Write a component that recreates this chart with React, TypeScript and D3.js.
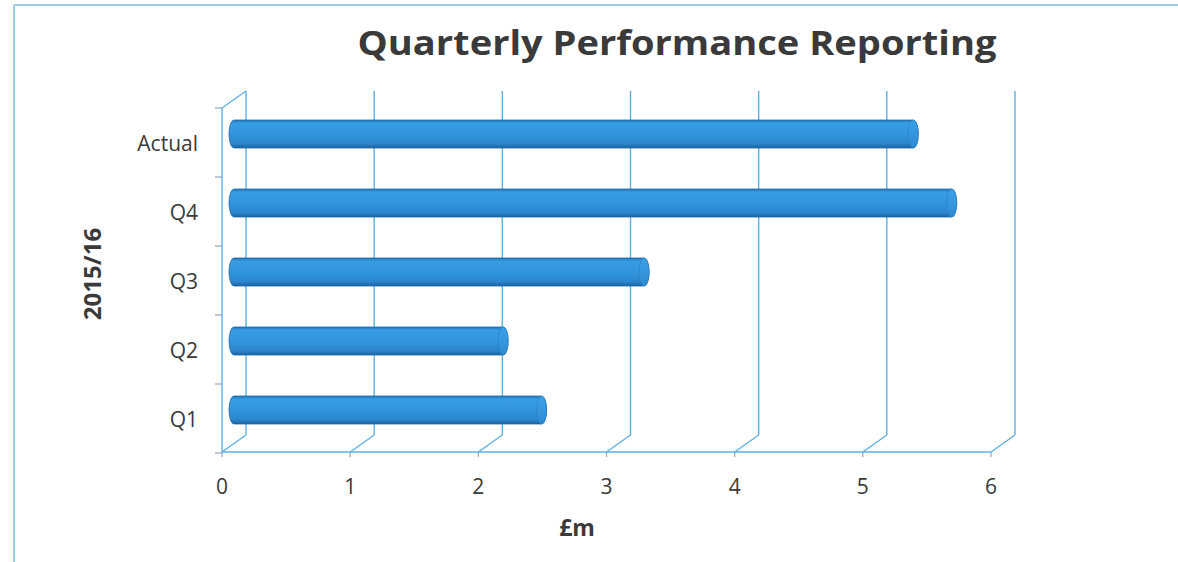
import React from "react";
import * as d3 from "d3";

const categories = ["Q1", "Q2", "Q3", "Q4", "Actual"];
const values = [2.4, 2.1, 3.2, 5.6, 5.3];
const xTicks = [0, 1, 2, 3, 4, 5, 6];
const title = "Quarterly Performance Reporting";
const xTitle = "£m";
const yTitle = "2015/16";

const W = 1178;
const H = 562;
const DX = 24;
const DY = -17;
const FONT = "'Open Sans', 'Noto Sans', sans-serif";

export default function App() {
  const x = d3.scaleLinear().domain([0, 6]).range([222, 991]);
  const y = d3
    .scaleBand<string>()
    .domain([...categories].reverse())
    .range([108, 453])
    .paddingInner(0)
    .paddingOuter(0);
  const floorY = 452;
  const topY = 108;
  const barH = 28;
  const capRx = 5;
  const grid = "#5fb0e2";
  const tickCol = "#8aa9c8";
  const textCol = "#3a3a3a";

  return (
    <svg
      width={W}
      height={H}
      style={{ position: "absolute", left: 0, top: 0, background: "#fff" }}
    >
      <defs>
        <linearGradient id="cyl" x1="0" y1="0" x2="0" y2="1">
          <stop offset="0" stopColor="#2676b8" />
          <stop offset="0.12" stopColor="#379de4" />
          <stop offset="0.5" stopColor="#3095de" />
          <stop offset="0.85" stopColor="#2b85cc" />
          <stop offset="1" stopColor="#1a60a0" />
        </linearGradient>
        <linearGradient id="cap" x1="0" y1="0" x2="0" y2="1">
          <stop offset="0" stopColor="#3aa2ea" />
          <stop offset="1" stopColor="#2e8ad2" />
        </linearGradient>
      </defs>

      {/* outer frame */}
      <line x1={14} y1={5} x2={W} y2={5} stroke="#9ccbe9" strokeWidth={2} />
      <line x1={14} y1={5} x2={14} y2={H} stroke="#9ccbe9" strokeWidth={2} />

      {/* title */}
      <text
        x={677}
        y={55}
        textAnchor="middle"
        fontFamily={FONT}
        fontWeight="bold"
        fontSize={34}
        fill={textCol}
        textLength={639}
        lengthAdjust="spacingAndGlyphs"
      >
        {title}
      </text>

      {/* back wall gridlines + floor diagonals */}
      {xTicks.map((t) => (
        <g key={"g" + t}>
          <line
            x1={x(t) + DX}
            y1={topY + DY}
            x2={x(t) + DX}
            y2={floorY + DY}
            stroke={grid}
            strokeWidth={1.4}
          />
          <line
            x1={x(t)}
            y1={floorY}
            x2={x(t) + DX}
            y2={floorY + DY}
            stroke={grid}
            strokeWidth={1.4}
          />
          <line
            x1={x(t)}
            y1={floorY}
            x2={x(t)}
            y2={floorY + 5}
            stroke={tickCol}
            strokeWidth={1.2}
          />
          <text
            x={x(t)}
            y={494}
            textAnchor="middle"
            fontFamily={FONT}
            fontSize={21}
            fill={textCol}
          >
            {t}
          </text>
        </g>
      ))}

      {/* front floor edge */}
      <line x1={x(0)} y1={floorY} x2={x(6)} y2={floorY} stroke={grid} strokeWidth={1.4} />
      {/* left wall front edge */}
      <line x1={x(0)} y1={topY} x2={x(0)} y2={floorY} stroke={grid} strokeWidth={1.4} />
      <line
        x1={x(0)}
        y1={topY}
        x2={x(0) + DX}
        y2={topY + DY}
        stroke={grid}
        strokeWidth={1.4}
      />

      {/* category ticks */}
      {[...categories.map((c) => y(c) as number), 453].map((py, i) => (
        <line
          key={"ct" + i}
          x1={x(0) - 7}
          y1={py}
          x2={x(0)}
          y2={py}
          stroke={tickCol}
          strokeWidth={1.2}
        />
      ))}

      {/* category labels */}
      {categories.map((c) => (
        <text
          key={"cl" + c}
          x={198}
          y={(y(c) as number) + y.bandwidth() / 2 + 8}
          textAnchor="end"
          fontFamily={FONT}
          fontSize={21}
          fill={textCol}
        >
          {c}
        </text>
      ))}

      {/* cylinders */}
      {categories.map((c, i) => {
        const cy = (y(c) as number) + y.bandwidth() / 2 + DY / 2;
        const x0 = x(0) + DX / 2;
        const x1 = x(values[i]) + DX / 2;
        const t = cy - barH / 2;
        const b = cy + barH / 2;
        const body = `M${x0},${t} L${x1},${t} A${capRx},${barH / 2} 0 0 1 ${x1},${b} L${x0},${b} A${capRx},${barH / 2} 0 0 1 ${x0},${t} Z`;
        return (
          <g key={"b" + c}>
            <path d={body} fill="url(#cyl)" stroke="#1f6aa8" strokeWidth={0.8} />
            <ellipse
              cx={x1}
              cy={cy}
              rx={capRx}
              ry={barH / 2}
              fill="url(#cap)"
              stroke="#2a7cc0"
              strokeWidth={0.6}
            />
          </g>
        );
      })}

      {/* axis titles */}
      <text
        x={577}
        y={536}
        textAnchor="middle"
        fontFamily={FONT}
        fontWeight="bold"
        fontSize={23}
        fill={textCol}
      >
        {xTitle}
      </text>
      <text
        transform={`translate(101,274) rotate(-90)`}
        textAnchor="middle"
        fontFamily={FONT}
        fontWeight="bold"
        fontSize={24}
        fill={textCol}
      >
        {yTitle}
      </text>
    </svg>
  );
}
